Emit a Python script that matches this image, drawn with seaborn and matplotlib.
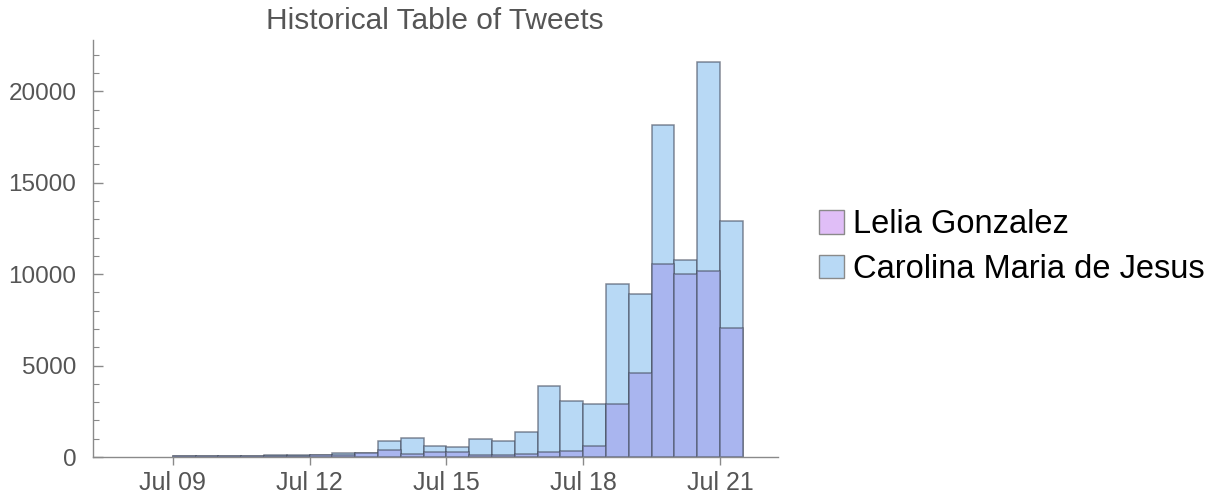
import matplotlib
matplotlib.use("Agg")
import matplotlib.pyplot as plt
import matplotlib.dates as mdates
from matplotlib.patches import Patch
import seaborn as sns
import pandas as pd
import numpy as np

# --- DATA (half-day bins) ---
bin_starts = pd.date_range("2020-07-09 00:00", periods=25, freq="12h")
carolina = [70, 70, 60, 60, 120, 120, 130, 200, 230, 900, 1020, 600, 530,
            960, 880, 1370, 3900, 3060, 2920, 9440, 8930, 18150, 10770, 21580, 12880]
lelia = [40, 40, 40, 40, 70, 70, 100, 90, 210, 400, 150, 270, 270,
         130, 130, 185, 255, 330, 620, 2920, 4590, 10570, 9990, 10160, 7050]
series_names = ["Lelia Gonzalez", "Carolina Maria de Jesus"]
tick_dates = ["2020-07-09", "2020-07-12", "2020-07-15", "2020-07-18", "2020-07-21"]

# --- STYLE ---
C_LELIA = "#E0BEF7"
C_CAROLINA = "#B8D9F5"
C_OVERLAP = "#A9B5EF"
EDGE = "#4d5566"
GRAY_TXT = "#555555"
AXIS_GRAY = "#8a8a8a"

sns.set_style("white")
plt.rcParams['font.family'] = ['Liberation Sans', 'DejaVu Sans']

df = pd.DataFrame({
    "t": mdates.date2num(bin_starts) + 0.25,
    "carolina": carolina,
    "lelia": lelia,
})
t0 = mdates.date2num(bin_starts[0])
brange = (t0, t0 + 0.5 * len(bin_starts))

fig = plt.figure(figsize=(12.14, 4.99), dpi=100)
ax = fig.add_axes([93 / 1214, 1 - 457 / 499, (778 - 93) / 1214, (457 - 40) / 499])

sns.histplot(data=df, x="t", weights="carolina", binwidth=0.5, binrange=brange,
             color=C_CAROLINA, alpha=1, edgecolor=EDGE, linewidth=1.1, ax=ax)
sns.histplot(data=df, x="t", weights="lelia", binwidth=0.5, binrange=brange,
             color=C_OVERLAP, alpha=1, edgecolor=EDGE, linewidth=1.1, ax=ax)
for p in ax.patches:
    p.set_edgecolor((0.28, 0.31, 0.38, 0.65))

ax.set_xlim(mdates.date2num(pd.Timestamp("2020-07-07 06:00")),
            mdates.date2num(pd.Timestamp("2020-07-22 06:30")))
ax.set_ylim(0, 22800)
ax.set_xlabel("")
ax.set_ylabel("")

ax.set_xticks(mdates.date2num(pd.to_datetime(tick_dates)))
ax.xaxis.set_major_formatter(mdates.DateFormatter("%b %d"))
ax.set_yticks([0, 5000, 10000, 15000, 20000])
ax.set_yticks(np.arange(0, 22001, 1000), minor=True)
ax.set_yticklabels(["0", "5000", "10000", "15000", "20000"])

for s in ["top", "right"]:
    ax.spines[s].set_visible(False)
for s in ["left", "bottom"]:
    ax.spines[s].set_color(AXIS_GRAY)
    ax.spines[s].set_linewidth(1)

ax.tick_params(axis="x", bottom=True, direction="out", length=6, width=1,
               color=AXIS_GRAY, labelcolor=GRAY_TXT, labelsize=18, pad=4)
ax.tick_params(axis="y", which="major", left=True, direction="in", length=7,
               width=1, color=AXIS_GRAY, labelcolor=GRAY_TXT, labelsize=17.5, pad=12)
ax.tick_params(axis="y", which="minor", left=True, direction="in", length=4,
               width=0.8, color=AXIS_GRAY)

fig.text(435 / 1214, 1 - 21 / 499, "Historical Table of Tweets", ha="center",
         va="center", fontsize=21.5, color=GRAY_TXT)

handles = [Patch(facecolor=C_LELIA, edgecolor="#8a8a8a"),
           Patch(facecolor=C_CAROLINA, edgecolor="#8a8a8a")]
fig.legend(handles, series_names, loc="center left", bbox_to_anchor=(0.664, 0.505),
           frameon=False, fontsize=23.5, handlelength=0.75, handleheight=0.75,
           handletextpad=0.3, labelspacing=0.42, borderaxespad=0, labelcolor="black")

fig.savefig("out.png", dpi=100)
